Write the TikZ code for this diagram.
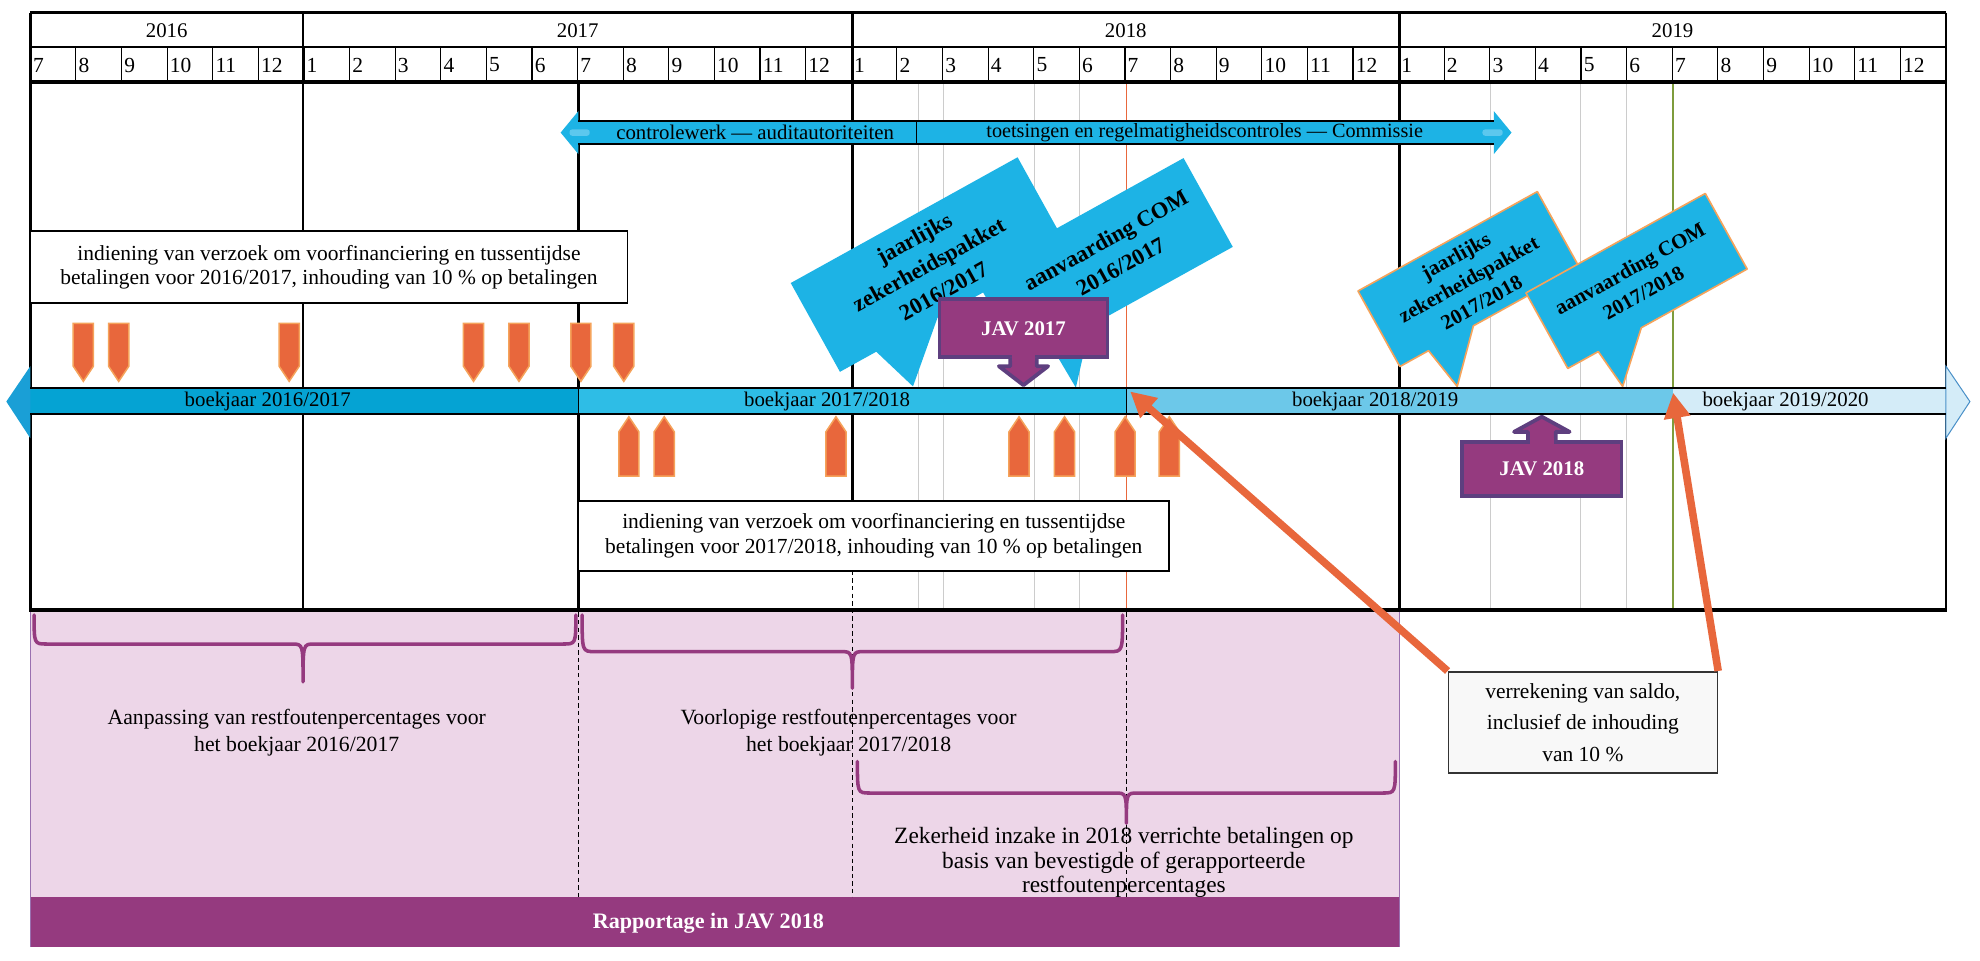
\documentclass[tikz,border=0pt]{standalone}
\usepackage{fontspec}
\setmainfont{Liberation Serif}
\usetikzlibrary{arrows.meta,calc}
\definecolor{cyanA}{HTML}{1DB3E5}
\definecolor{cyanL}{HTML}{5CC8EE}
\definecolor{barA}{HTML}{05A3D3}
\definecolor{barB}{HTML}{2EBDE6}
\definecolor{barC}{HTML}{6CC8E9}
\definecolor{barD}{HTML}{D4ECF8}
\definecolor{tipA}{HTML}{1A9FD6}
\definecolor{tipOut}{HTML}{4A90C8}
\definecolor{purpA}{HTML}{953A7F}
\definecolor{violB}{HTML}{5E3F7F}
\definecolor{pinkA}{HTML}{EDD6E8}
\definecolor{pinkEdge}{HTML}{9A70B0}
\definecolor{orA}{HTML}{E8673C}
\definecolor{orL}{HTML}{F5A35B}
\definecolor{grayL}{HTML}{CCCCCC}
\definecolor{greenA}{HTML}{7E9C3C}
\definecolor{boxGray}{HTML}{F8F8F8}
\begin{document}
\begin{tikzpicture}[x=1pt,y=-1pt,
  lbl/.style={font=\fontsize{16.5}{19.5}\selectfont, align=center, inner sep=0pt},
  hdr/.style={font=\fontsize{16.5}{18}\selectfont, inner sep=0pt},
  mon/.style={font=\fontsize{17}{18}\selectfont, inner sep=0pt, anchor=west},
  infobox/.style={draw=black, line width=1.4pt, fill=white, align=center, font=\fontsize{17}{19.5}\selectfont, inner sep=0pt},
  yearline/.style={line width=2.2pt, black},
  grayline/.style={line width=0.8pt, grayL},
  dotline/.style={line width=1pt, black, dash pattern=on 3.5pt off 2.5pt},
  brace/.style={line width=2.8pt, purpA, line cap=round, line join=round},
  barlbl/.style={font=\fontsize{16.5}{18}\selectfont, inner sep=0pt},
  downarr/.pic={\filldraw[fill=orA, draw=orL, line width=1.2pt] (-8,0) -- (8,0) -- (8,34) -- (0,46) -- (-8,34) -- cycle;},
  uparr/.pic={\filldraw[fill=orA, draw=orL, line width=1.2pt] (-8,0) -- (8,0) -- (8,-35) -- (0,-47) -- (-8,-35) -- cycle;},
  calloutbox/.style={inner sep=0pt, rotate=29},
  callouttext/.style={font=\bfseries\fontsize{18}{24}\selectfont, align=center, inner sep=0pt, rotate=29},
  javbox/.style={fill=purpA, draw=violB, line width=3pt, text=white, font=\bfseries\fontsize{16.5}{18}\selectfont, inner sep=0pt},
  bigarrow/.style={line width=6pt, orA, -{Triangle[length=20pt,width=20pt]}},
]
\useasboundingbox (0,0) rectangle (1568,761);
\fill[white] (0,0) rectangle (1568,761);

% ---------- pink lower area ----------
\fill[pinkA] (24,483) rectangle (1108,710);
\fill[purpA] (24,710) rectangle (1108,750);
\draw[pinkEdge, line width=1pt] (1108,483) -- (1108,750);
\draw[pinkEdge, line width=0.6pt] (24,483) -- (24,750);
\node[font=\bfseries\fontsize{17.5}{18}\selectfont, text=white, inner sep=0pt] (rap) at (561,731) {Rapportage in JAV 2018};

% ---------- grid ----------
\foreach \x in {727,747,819,855,1180,1252,1288} \draw[grayline] (\x,65) -- (\x,483);
\draw[orA, line width=1.3pt] (892,65) -- (892,483);
\draw[greenA, line width=1.3pt] (1325,65) -- (1325,483);

\foreach \k in {0,...,41}{
  \pgfmathsetmacro\xl{24+\k*36.119}
  \pgfmathtruncatemacro\m{mod(\k+6,12)+1}
  \draw[line width=0.9pt] (\xl,37) -- (\xl,65);
  \node[mon] (m\k) at (\xl+2,51.5) {\m};
}
\draw[line width=2pt] (24,10) -- (1541,10);
\draw[line width=1.3pt] (24,37) -- (1541,37);
\draw[line width=3pt] (24,65) -- (1541,65);
\foreach \x in {24,240,1108,1541} \draw[yearline] (\x,10) -- (\x,483);
\draw[yearline] (675,10) -- (675,420);
\draw[yearline] (458,65) -- (458,483);
\draw[line width=3pt] (23,483) -- (1542,483);

\node[hdr] (y16) at (132,24) {2016};
\node[hdr] (y17) at (457.5,24) {2017};
\node[hdr] (y18) at (891.5,24) {2018};
\node[hdr] (y19) at (1324.5,24) {2019};

% dotted lines
\draw[dotline] (458,485) -- (458,710);
\draw[dotline] (675,452) -- (675,710);
\draw[dotline] (892,485) -- (892,710);

% ---------- top double arrow ----------
\fill[cyanA] (458,96) rectangle (1183,114);
\fill[cyanA] (458,88) -- (444,105) -- (458,122) -- cycle;
\fill[cyanA] (1183,88) -- (1197,105) -- (1183,122) -- cycle;
\fill[cyanL, rounded corners=2pt] (451,102.5) rectangle (467,107.5);
\fill[cyanL, rounded corners=2pt] (1174,102.5) rectangle (1190,107.5);
\draw[line width=1.4pt] (458,96) -- (1183,96) (458,114) -- (1183,114);
\draw[line width=1pt] (726,96) -- (726,114);
\node[font=\fontsize{16.5}{17}\selectfont, inner sep=0pt] (ctrl) at (598,105) {controlewerk — auditautoriteiten};
\node[font=\fontsize{16}{17}\selectfont, inner sep=0pt] (toets) at (954,105) {toetsingen en regelmatigheidscontroles — Commissie};

% ---------- text boxes ----------
\node[infobox, minimum width=473pt, minimum height=57pt] (box1) at (260.5,211.5)
  {indiening van verzoek om voorfinanciering en tussentijdse\\betalingen voor 2016/2017, inhouding van 10 \% op betalingen};
\node[infobox, minimum width=468pt, minimum height=55pt] (box2) at (692,424.5)
  {indiening van verzoek om voorfinanciering en tussentijdse\\betalingen voor 2017/2018, inhouding van 10 \% op betalingen};

% ---------- callouts ----------
\path node[calloutbox, minimum width=190pt, minimum height=80pt] (c2) at (873.5,206.5) {};
\coordinate (c2tip) at (852,307);
\fill[cyanA] (c2.south west) -- ($(c2.south west)!0.14!(c2.south east)$) -- (c2tip) -- ($(c2.south west)!0.32!(c2.south east)$) -- (c2.south east) -- (c2.north east) -- (c2.north west) -- cycle;
\node[callouttext] (c2t) at ($(c2.center)+(8,-6)$) {aanvaarding COM\\2016/2017};

\path node[calloutbox, minimum width=205pt, minimum height=80pt] (c1) at (735.5,209.5) {};
\coordinate (c1tip) at (723,306);
\fill[cyanA] (c1.south west) -- ($(c1.south west)!0.16!(c1.south east)$) -- (c1tip) -- ($(c1.south west)!0.43!(c1.south east)$) -- (c1.south east) -- (c1.north east) -- (c1.north west) -- cycle;
\node[callouttext] (c1t) at (c1.center) {jaarlijks\\zekerheidspakket\\2016/2017};

\path node[calloutbox, minimum width=162pt, minimum height=68pt] (c3) at (1163,221) {};
\coordinate (c3tip) at (1154,306);
\filldraw[fill=cyanA, draw=orL, line width=1.3pt, line join=round] (c3.south west) -- ($(c3.south west)!0.16!(c3.south east)$) -- (c3tip) -- ($(c3.south west)!0.41!(c3.south east)$) -- (c3.south east) -- (c3.north east) -- (c3.north west) -- cycle;
\node[callouttext, font=\bfseries\fontsize{16.5}{21}\selectfont] (c3t) at (c3.center) {jaarlijks\\zekerheidspakket\\2017/2018};

\path node[calloutbox, minimum width=162pt, minimum height=68pt] (c4) at (1296,222.5) {};
\coordinate (c4tip) at (1285,306);
\filldraw[fill=cyanA, draw=orL, line width=1.3pt, line join=round] (c4.south west) -- ($(c4.south west)!0.17!(c4.south east)$) -- (c4tip) -- ($(c4.south west)!0.41!(c4.south east)$) -- (c4.south east) -- (c4.north east) -- (c4.north west) -- cycle;
\node[callouttext, font=\bfseries\fontsize{16.5}{22}\selectfont] (c4t) at (c4.center) {aanvaarding COM\\2017/2018};

% ---------- timeline bar ----------
\fill[barA] (24,307) rectangle (458,328);
\fill[barB] (458,307) rectangle (892,328);
\fill[barC] (892,307) rectangle (1325,328);
\fill[barD] (1325,307) rectangle (1541,328);
\fill[tipA] (24,290) -- (5,318) -- (24,347) -- cycle;
\filldraw[fill=barD, draw=tipOut, line width=0.8pt] (1541,290) -- (1560,318) -- (1541,347) -- cycle;
\draw[line width=1.5pt] (24,307) -- (1541,307) (24,328) -- (1541,328);
\draw[line width=1pt] (458,307) -- (458,328) (892,307) -- (892,328);
\node[barlbl] (bj1) at (212,318) {boekjaar 2016/2017};
\node[barlbl] (bj2) at (655,318) {boekjaar 2017/2018};
\node[barlbl] (bj3) at (1089,318) {boekjaar 2018/2019};
\node[barlbl] (bj4) at (1414,318) {boekjaar 2019/2020};

% ---------- orange payment arrows ----------
\foreach \x in {66,94,229,375,411,460,494} \pic at (\x,256) {downarr};
\foreach \x in {498,526,662,807,843,891,926} \pic at (\x,377) {uparr};

% ---------- JAV boxes ----------
\node[javbox, minimum width=133pt, minimum height=46pt] (jav17) at (810.5,260) {JAV 2017};
\filldraw[fill=purpA, draw=violB, line width=3pt, line join=round] (800,283) -- (800,290) -- (791,290) -- (810.5,305) -- (830,290) -- (821,290) -- (821,283);
\fill[purpA] (801.5,281.5) rectangle (819.5,286);

\node[javbox, minimum width=126pt, minimum height=43pt] (jav18) at (1221,371.5) {JAV 2018};
\filldraw[fill=purpA, draw=violB, line width=3pt, line join=round] (1210,350) -- (1210,342) -- (1199,342) -- (1221,330) -- (1243,342) -- (1232,342) -- (1232,350);
\fill[purpA] (1211.5,347) rectangle (1230.5,352.5);

% ---------- settlement box and arrows ----------
\node[lbl, font=\fontsize{17}{25}\selectfont, draw=black!80, line width=1.3pt, fill=boxGray, minimum width=213pt, minimum height=80pt] (verr) at (1253.5,572)
  {verrekening van saldo,\\inclusief de inhouding\\van 10 \%};
\coordinate (tipA) at (895,310);
\coordinate (tipB) at (1325,311);
\draw[bigarrow] (verr.north west) -- (tipA);
\draw[bigarrow] (verr.north east) -- (tipB);

% ---------- braces ----------
\draw[brace] (27,487) .. controls (27,510) .. (37,510) -- (231,510) .. controls (240,510) .. (240,540)
             .. controls (240,510) .. (249,510) -- (446,510) .. controls (456,510) .. (456,487);
\draw[brace] (461,487) .. controls (461,516) .. (471,516) -- (666,516) .. controls (675,516) .. (675,545)
             .. controls (675,516) .. (684,516) -- (879,516) .. controls (889,516) .. (889,487);
\draw[brace] (679,603) .. controls (679,628) .. (689,628) -- (883,628) .. controls (892,628) .. (892,652)
             .. controls (892,628) .. (901,628) -- (1095,628) .. controls (1105,628) .. (1105,603);

% ---------- pink area texts ----------
\node[lbl, font=\fontsize{17.2}{21}\selectfont] (adj) at (235,580) {Aanpassing van restfoutenpercentages voor\\het boekjaar 2016/2017};
\node[lbl, font=\fontsize{17.2}{21}\selectfont] (prov) at (672,580) {Voorlopige restfoutenpercentages voor\\het boekjaar 2017/2018};
\node[lbl, font=\fontsize{18.5}{19.5}\selectfont] (zek) at (890,683) {Zekerheid inzake in 2018 verrichte betalingen op\\basis van bevestigde of gerapporteerde\\restfoutenpercentages};
\end{tikzpicture}
\end{document}
